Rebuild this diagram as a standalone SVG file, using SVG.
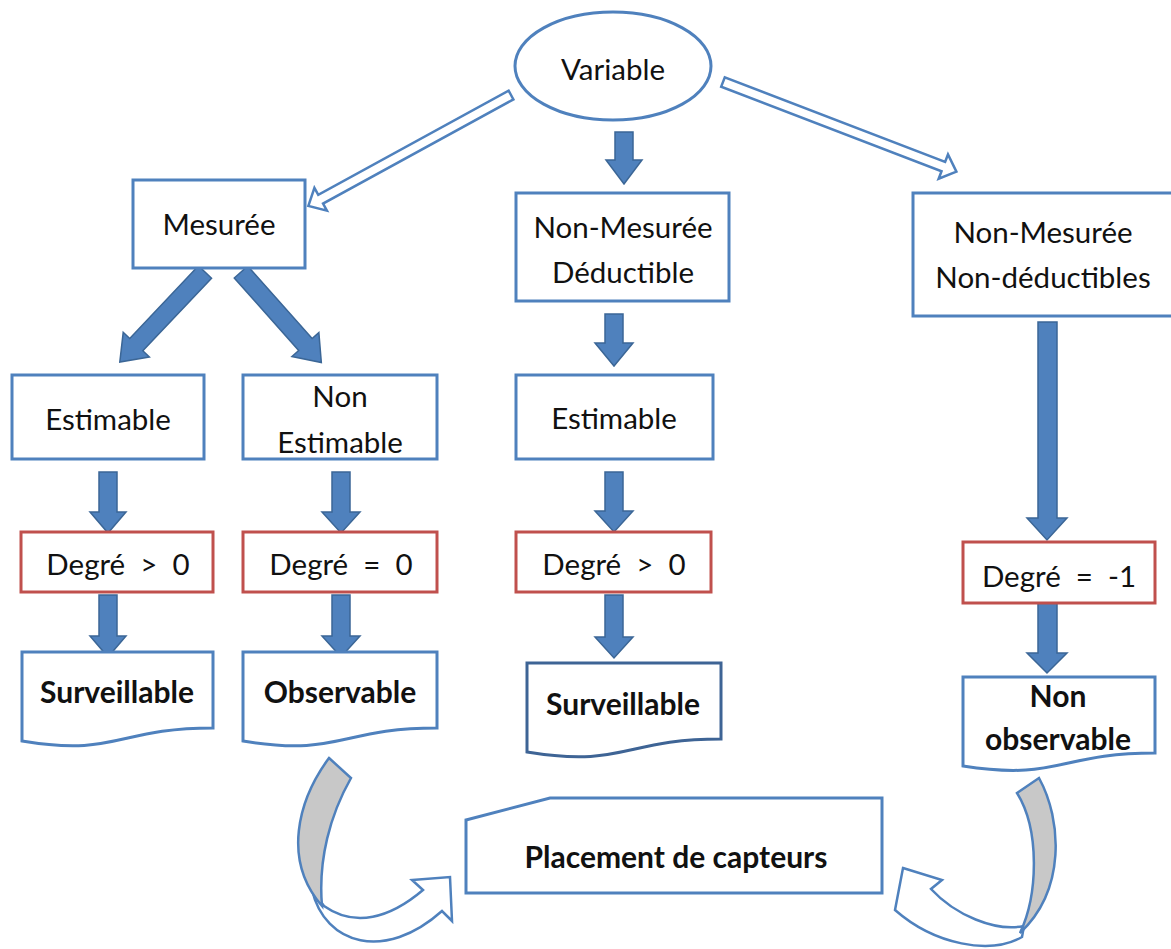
<svg xmlns="http://www.w3.org/2000/svg" width="1171" height="949" viewBox="0 0 1171 949">
  <style>
    .box { fill: #ffffff; stroke: #4f81bd; stroke-width: 3; }
    .deg { fill: #ffffff; stroke: #c0504d; stroke-width: 3; }
    .doc { fill: #ffffff; stroke: #4f81bd; stroke-width: 3; }
    .doc-dark { fill: #ffffff; stroke: #3e6495; stroke-width: 3; }
    .blk { fill: #4f81bd; stroke: #3b6696; stroke-width: 1.5; stroke-linejoin: miter; }
    .hollow { fill: #ffffff; stroke: #4f81bd; stroke-width: 2.5; stroke-linejoin: miter; }
    .curve-back { fill: #c8c8c8; stroke: #4f81bd; stroke-width: 2.5; stroke-linejoin: miter; }
    .curve-front { fill: #ffffff; stroke: #4f81bd; stroke-width: 2.5; stroke-linejoin: miter; }
    text { font-family: Lato, "Open Sans", "Liberation Sans", sans-serif; fill: #111111; text-anchor: middle; white-space: pre; }
    .t { font-size: 29.5px; }
    .b { font-size: 30px; font-weight: bold; }
  </style>

  <!-- connectors -->
  <g id="connectors">
    <!-- hollow arrows from the root -->
    <path class="hollow" transform="translate(511,95) rotate(61.3)" d="M-5,0 H5 V217 H13 L0,231 L-13,217 H-5 Z"/>
    <path class="hollow" transform="translate(723,82) rotate(-69)" d="M-5,0 H5 V236 H13 L0,250 L-13,236 H-5 Z"/>

    <!-- block arrows -->
    <path class="blk" d="M615,132 H633 V160 H642 L624,184 L606,160 H615 Z"/>
    <path class="blk" transform="translate(205,272) rotate(43.4)" d="M-9,0 H9 V100 H18 L0,124 L-18,100 H-9 Z"/>
    <path class="blk" transform="translate(241,272) rotate(-41.6)" d="M-9,0 H9 V97 H18 L0,121 L-18,97 H-9 Z"/>

    <path class="blk" d="M99,472 H117 V512 H126 L108,533 L90,512 H99 Z"/>
    <path class="blk" d="M99,595 H117 V636 H126 L108,657 L90,636 H99 Z"/>
    <path class="blk" d="M332,472 H350 V512 H360 L341,533 L322,512 H332 Z"/>
    <path class="blk" d="M332,595 H350 V636 H360 L341,657 L322,636 H332 Z"/>

    <path class="blk" d="M605,314 H623 V343 H633 L614,366 L595,343 H605 Z"/>
    <path class="blk" d="M605,472 H623 V511 H633 L614,532 L595,511 H605 Z"/>
    <path class="blk" d="M605,595 H623 V637 H633 L614,658 L595,637 H605 Z"/>

    <path class="blk" d="M1038,322 H1057 V518 H1067 L1047,540 L1027,518 H1038 Z"/>
    <path class="blk" d="M1038,603 H1057 V653 H1067 L1047,673 L1027,653 H1038 Z"/>

    <!-- curved arrows towards sensor placement -->
    <path class="curve-front" d="M312,890 C325,945 385,962 442,911 L452,921 L450,877 L412,880 L423,890 C390,918 355,928 324,906 Z"/>
    <path class="curve-back" d="M329,758 L351,778 C330,815 318,860 322,906 C282,860 298,800 329,758 Z"/>

    <path class="curve-front" d="M903,868 L942,880 L931,889 C955,915 995,932 1024,926 L1022,937 C990,955 935,945 895,910 Z"/>
    <path class="curve-back" d="M1017,793 L1039,778 C1062,820 1066,890 1020,933 C1038,895 1040,830 1017,793 Z"/>
  </g>

  <!-- root -->
  <g id="variable">
    <ellipse class="box" cx="613" cy="66" rx="98" ry="54"/>
    <text class="t" x="613" y="80">Variable</text>
  </g>

  <!-- first level -->
  <g id="mesuree">
    <rect class="box" x="133" y="180" width="172" height="88"/>
    <text class="t" x="219" y="235">Mesurée</text>
  </g>
  <g id="non-mesuree-deductible">
    <rect class="box" x="516" y="193" width="213" height="108"/>
    <text class="t" x="623" y="238">Non-Mesurée</text>
    <text class="t" x="623" y="283">Déductible</text>
  </g>
  <g id="non-mesuree-non-deductibles">
    <rect class="box" x="913" y="193" width="262" height="123"/>
    <text class="t" x="1043" y="243">Non-Mesurée</text>
    <text class="t" x="1043" y="288">Non-déductibles</text>
  </g>

  <!-- estimability -->
  <g id="estimable-1">
    <rect class="box" x="12" y="375" width="192" height="84"/>
    <text class="t" x="108" y="430">Estimable</text>
  </g>
  <g id="non-estimable">
    <rect class="box" x="243" y="375" width="194" height="84"/>
    <text class="t" x="340" y="407">Non</text>
    <text class="t" x="340" y="453">Estimable</text>
  </g>
  <g id="estimable-2">
    <rect class="box" x="516" y="375" width="197" height="84"/>
    <text class="t" x="614" y="429">Estimable</text>
  </g>

  <!-- degrees -->
  <g id="degre-1">
    <rect class="deg" x="21" y="532" width="192" height="60"/>
    <text class="t" x="118" y="575">Degré  &gt;  0</text>
  </g>
  <g id="degre-2">
    <rect class="deg" x="243" y="532" width="194" height="60"/>
    <text class="t" x="341" y="575">Degré  =  0</text>
  </g>
  <g id="degre-3">
    <rect class="deg" x="516" y="532" width="195" height="60"/>
    <text class="t" x="614" y="575">Degré  &gt;  0</text>
  </g>
  <g id="degre-4">
    <rect class="deg" x="963" y="542" width="192" height="61"/>
    <text class="t" x="1059" y="587">Degré  =  -1</text>
  </g>

  <!-- outcomes -->
  <g id="surveillable-1">
    <path class="doc" d="M22,652 H213 V728 C117,728 117,757 22,741 Z"/>
    <text class="b" x="117" y="703">Surveillable</text>
  </g>
  <g id="observable">
    <path class="doc" d="M243,652 H437 V728 C340,728 340,757 243,741 Z"/>
    <text class="b" x="340" y="703">Observable</text>
  </g>
  <g id="surveillable-2">
    <path class="doc-dark" d="M527,663 H721 V739 C624,739 624,768 527,752 Z"/>
    <text class="b" x="623" y="715">Surveillable</text>
  </g>
  <g id="non-observable">
    <path class="doc" d="M963,677 H1155 V753 C1059,753 1059,781 963,766 Z"/>
    <text class="b" x="1058" y="707">Non</text>
    <text class="b" x="1058" y="750">observable</text>
  </g>

  <!-- action -->
  <g id="placement">
    <path class="box" d="M466,820 L550,798 H882 V893 H466 Z"/>
    <text class="b" x="676" y="868">Placement de capteurs</text>
  </g>
</svg>
